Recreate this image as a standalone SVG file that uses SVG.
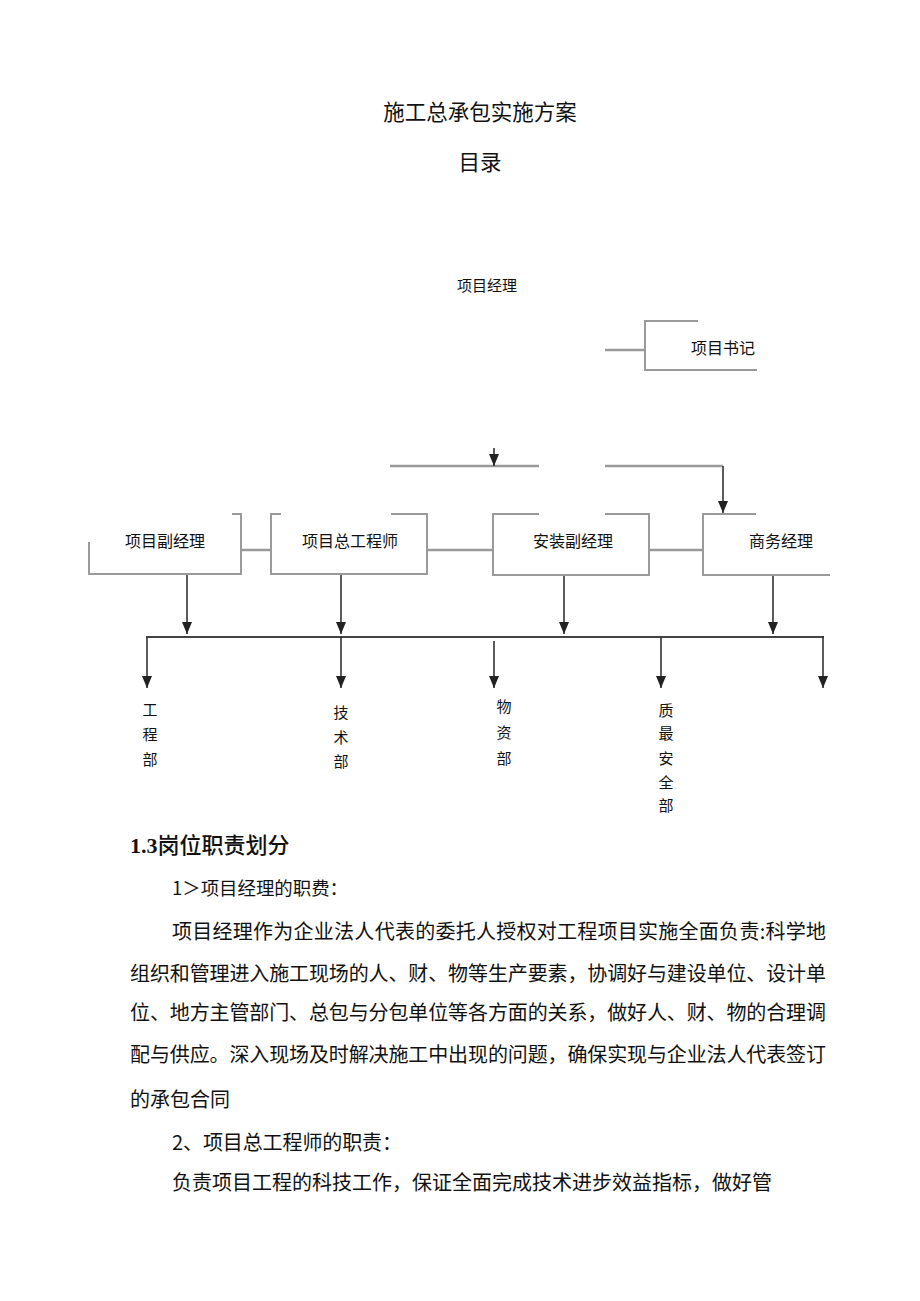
<svg xmlns="http://www.w3.org/2000/svg" width="920" height="1301" viewBox="0 0 920 1301">
<style>
.t{font-family:"Noto Sans CJK SC","Liberation Sans",sans-serif;fill:#111}
.box{fill:none;stroke:#9a9a9a;stroke-width:2}
.gl{fill:none;stroke:#9a9a9a;stroke-width:2.5}
.ar{fill:none;stroke:#333;stroke-width:1.6}
.bus{fill:none;stroke:#444;stroke-width:2}
.lb{font-size:16px}
.vl{font-size:15px}
.body{font-size:20px}
</style>
<defs>
<marker id="ah" markerUnits="userSpaceOnUse" markerWidth="10" markerHeight="12" viewBox="0 0 10 12" refX="5" refY="12" orient="auto-start-reverse">
<path d="M0,0 L10,0 L5,12 Z" fill="#222" transform="rotate(0)"/>
</marker>
<marker id="ad" markerUnits="userSpaceOnUse" markerWidth="10" markerHeight="12" viewBox="0 0 10 12" refX="5" refY="12" orient="0">
<path d="M0,0 L10,0 L5,12 Z" fill="#222"/>
</marker>
</defs>
<rect width="920" height="1301" fill="#fff"/>

<text class="t" x="480" y="120" font-size="21.5" text-anchor="middle">施工总承包实施方案</text>
<text class="t" x="480" y="170" font-size="21.5" text-anchor="middle">目录</text>

<g id="n-manager"><text class="t" x="487" y="291" font-size="15" text-anchor="middle">项目经理</text></g>

<g id="n-secretary">
<path class="box" d="M698,321 H645 V370 H757"/>
<text class="t lb" x="723" y="354" font-size="15" text-anchor="middle">项目书记</text>
</g>

<g id="n-deputy">
<path class="box" d="M232,514 H241 V574 H89 V542"/>
<text class="t lb" x="165" y="547" text-anchor="middle">项目副经理</text>
</g>
<g id="n-chief">
<path class="box" d="M281,514 H271 V574 H427 V514 H391"/>
<text class="t lb" x="350" y="547" text-anchor="middle">项目总工程师</text>
</g>
<g id="n-install">
<path class="box" d="M539,514 H493 V575 H649 V514 H605"/>
<text class="t lb" x="573" y="547" text-anchor="middle">安装副经理</text>
</g>
<g id="n-business">
<path class="box" d="M756,514 H703 V575 H830"/>
<text class="t lb" x="781" y="547" text-anchor="middle">商务经理</text>
</g>

<g id="n-eng"><text class="t vl" x="150" y="715" text-anchor="middle">工</text><text class="t vl" x="150" y="740" text-anchor="middle">程</text><text class="t vl" x="150" y="765" text-anchor="middle">部</text></g>
<g id="n-tech"><text class="t vl" x="341" y="718" text-anchor="middle">技</text><text class="t vl" x="341" y="743" text-anchor="middle">术</text><text class="t vl" x="341" y="767" text-anchor="middle">部</text></g>
<g id="n-mat"><text class="t vl" x="504" y="712" text-anchor="middle">物</text><text class="t vl" x="504" y="738" text-anchor="middle">资</text><text class="t vl" x="504" y="764" text-anchor="middle">部</text></g>
<g id="n-qs"><text class="t vl" x="666" y="716" text-anchor="middle">质</text><text class="t vl" x="666" y="739" text-anchor="middle">最</text><text class="t vl" x="666" y="764" text-anchor="middle">安</text><text class="t vl" x="666" y="788" text-anchor="middle">全</text><text class="t vl" x="666" y="811" text-anchor="middle">部</text></g>

<g id="connectors">
<line class="gl" x1="605" y1="350" x2="645" y2="350"/>
<line class="gl" x1="390" y1="466" x2="539" y2="466"/>
<line class="ar" x1="494" y1="448" x2="494" y2="466" marker-end="url(#ad)"/>
<path class="gl" d="M605,466 H723"/>
<line class="ar" x1="723" y1="466" x2="723" y2="513" marker-end="url(#ad)"/>
<line class="gl" x1="241" y1="550" x2="271" y2="550"/>
<line class="gl" x1="427" y1="550" x2="493" y2="550"/>
<line class="gl" x1="649" y1="550" x2="703" y2="550"/>
<line class="ar" x1="187" y1="575" x2="187" y2="634" marker-end="url(#ad)"/>
<line class="ar" x1="341" y1="575" x2="341" y2="634" marker-end="url(#ad)"/>
<line class="ar" x1="564" y1="576" x2="564" y2="634" marker-end="url(#ad)"/>
<line class="ar" x1="773" y1="576" x2="773" y2="634" marker-end="url(#ad)"/>
<line class="bus" x1="146" y1="637" x2="824" y2="637"/>
<line class="ar" x1="147" y1="637" x2="147" y2="688" marker-end="url(#ad)"/>
<line class="ar" x1="341" y1="637" x2="341" y2="688" marker-end="url(#ad)"/>
<line class="ar" x1="494" y1="641" x2="494" y2="688" marker-end="url(#ad)"/>
<line class="ar" x1="661" y1="637" x2="661" y2="688" marker-end="url(#ad)"/>
<line class="ar" x1="823" y1="636" x2="823" y2="688" marker-end="url(#ad)"/>
</g>

<text x="130" y="853" font-size="22" fill="#111"><tspan font-family="Liberation Serif,serif" font-weight="bold">1.3</tspan><tspan font-family="Noto Sans CJK SC,sans-serif" font-weight="500">岗位职责划分</tspan></text>
<text class="t" x="172" y="895" font-size="18" textLength="176" lengthAdjust="spacingAndGlyphs">1＞项目经理的职费：</text>
<text class="t body" x="172" y="939" textLength="654" lengthAdjust="spacing">项目经理作为企业法人代表的委托人授权对工程项目实施全面负责:科学地</text>
<text class="t body" x="130" y="981" textLength="696" lengthAdjust="spacing">组织和管理进入施工现场的人、财、物等生产要素，协调好与建设单位、设计单</text>
<text class="t body" x="130" y="1020" textLength="696" lengthAdjust="spacing">位、地方主管部门、总包与分包单位等各方面的关系，做好人、财、物的合理调</text>
<text class="t body" x="130" y="1062" textLength="696" lengthAdjust="spacing">配与供应。深入现场及时解决施工中出现的问题，确保实现与企业法人代表签订</text>
<text class="t body" x="130" y="1107">的承包合同</text>
<text class="t body" x="172" y="1150" textLength="230" lengthAdjust="spacing">2、项目总工程师的职责：</text>
<text class="t body" x="172" y="1190" textLength="600" lengthAdjust="spacing">负责项目工程的科技工作，保证全面完成技术进步效益指标，做好管</text>
</svg>
